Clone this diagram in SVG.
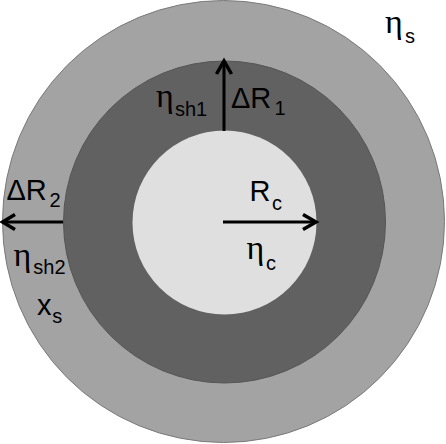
<svg xmlns="http://www.w3.org/2000/svg" width="446" height="444" viewBox="0 0 446 444">
<defs>
<style>
.t{font-family:"Liberation Sans",Arial,sans-serif;font-size:29px;fill:#000}
.g{font-family:"Liberation Serif","Times New Roman",serif;font-size:34px}
.sub{font-size:20px}
.ln{stroke:#000;stroke-width:3;fill:none}
.hd{stroke:#000;stroke-width:3.5;fill:none;stroke-linejoin:miter;stroke-miterlimit:10}
</style>
</defs>
<rect width="446" height="444" fill="#ffffff"/>
<g id="outer">
<circle cx="223.5" cy="221.5" r="221" fill="#a3a3a3" stroke="#7a7a7a" stroke-width="1"/>
<text class="t"><tspan class="g" x="385" y="33.3">η</tspan><tspan class="sub" x="405" y="42.7">s</tspan></text>
</g>
<g id="shell">
<circle cx="224.5" cy="222" r="161" fill="#616161" stroke="#555555" stroke-width="1"/>
</g>
<g id="core">
<circle cx="224.5" cy="222.5" r="92" fill="#dfdfdf"/>
</g>
<g id="connectors">
<line class="ln" x1="224" y1="131" x2="224" y2="62"/>
<polyline class="hd" points="216.5,74 224,61 231.5,74"/>
<line class="ln" x1="223" y1="222" x2="315" y2="222"/>
<polyline class="hd" points="303,214.5 316,222 303,229.5"/>
<line class="ln" x1="63" y1="222" x2="4" y2="222"/>
<polyline class="hd" points="15,214.5 2.5,222 15,229.5"/>
</g>
<g id="labels">
<text class="t"><tspan class="g" x="156" y="106.7">η</tspan><tspan class="sub" x="175" y="116">sh1</tspan></text>
<text class="t"><tspan x="231" y="108.3">ΔR</tspan><tspan class="sub" x="274.5" y="115">1</tspan></text>
<text class="t"><tspan x="6.5" y="199.5">ΔR</tspan><tspan class="sub" x="49.5" y="207">2</tspan></text>
<text class="t"><tspan class="g" x="13.5" y="265.5">η</tspan><tspan class="sub" x="33.3" y="273.5">sh2</tspan></text>
<text class="t"><tspan x="37" y="315">x</tspan><tspan class="sub" x="52.3" y="323.3">s</tspan></text>
<text class="t"><tspan x="249.5" y="201">R</tspan><tspan class="sub" x="272" y="210">c</tspan></text>
<text class="t"><tspan class="g" x="246.5" y="258.5">η</tspan><tspan class="sub" x="266" y="270">c</tspan></text>
</g>
</svg>
